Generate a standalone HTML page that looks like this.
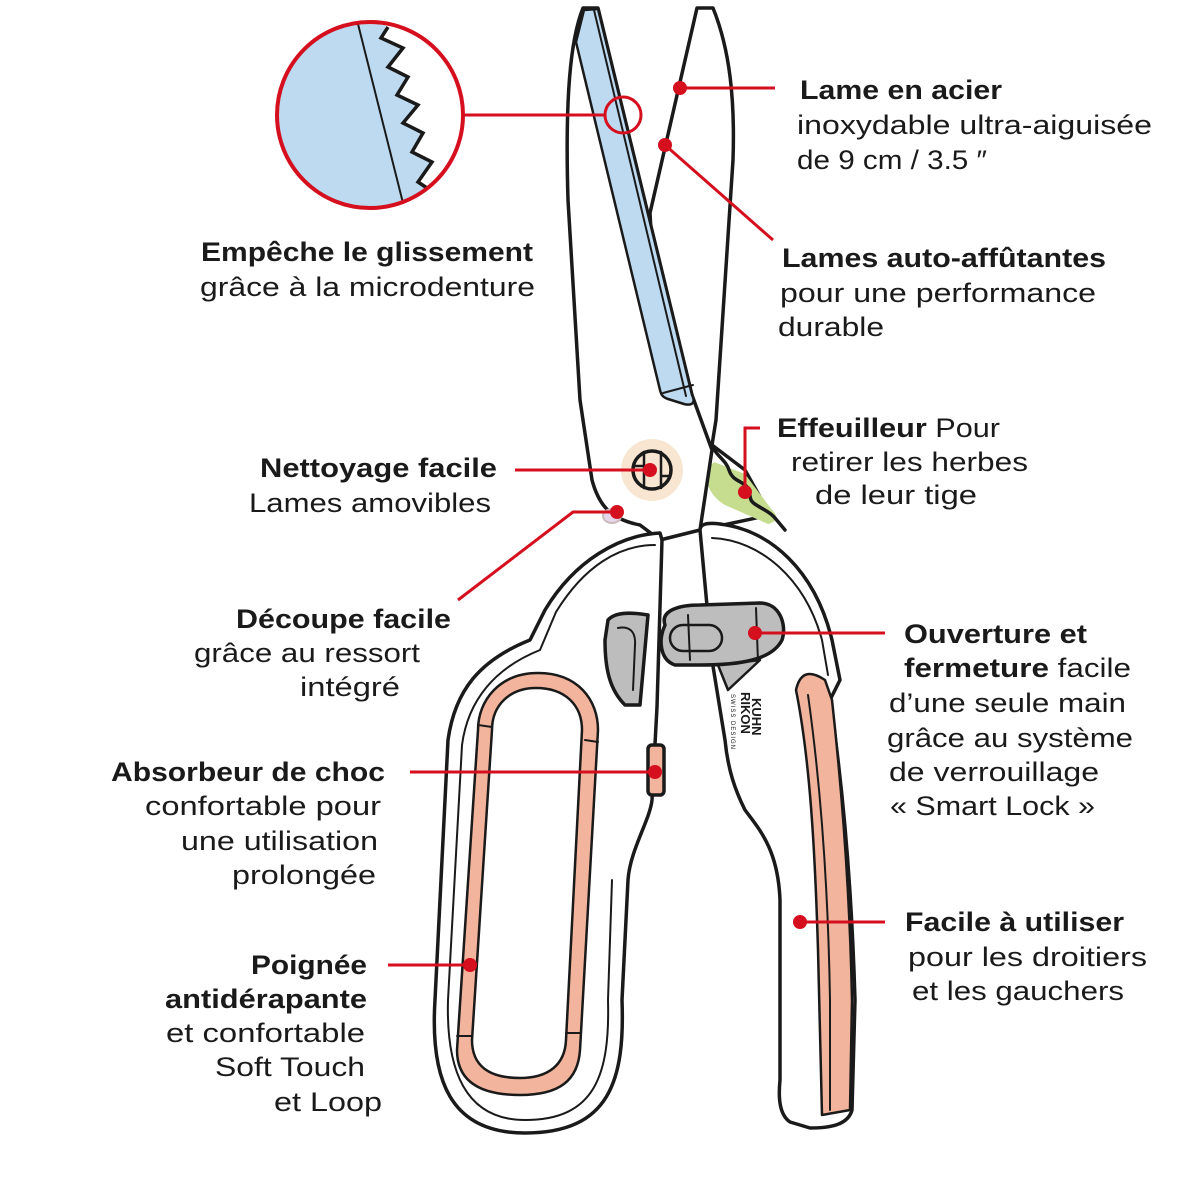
<!DOCTYPE html>
<html><head><meta charset="utf-8"><style>
html,body{margin:0;padding:0;background:#fff;}
svg{display:block}
text{font-family:"Liberation Sans",sans-serif;font-size:27px;fill:#1a1a1a;}
.b{font-weight:bold}
</style></head><body>
<svg width="1200" height="1200" viewBox="0 0 1200 1200" xmlns="http://www.w3.org/2000/svg">
<g stroke="#1a1a1a" stroke-width="3.5" stroke-linejoin="round" stroke-linecap="round">
<!-- right blade -->
<path d="M697,8 L713,8 C730,50 735,100 733,160 L716,420 L712,445 L745,470 L770,515 L700,530 L660,400 L650,213 Z" fill="#fff"/>
<!-- stripper -->
<path d="M714,462 C700,475 708,495 725,505 L768,524 C778,522 778,515 772,510 L745,474 Z" fill="#c6dc8e" stroke="none"/>
<path d="M712,445 C716,456 726,460 729,470 C733,482 742,480 748,488 C752,497 747,500 758,506 C764,510 770,512 775,518 L785,530" fill="none"/>
<!-- left blade + body -->
<path d="M583,8 L598,8 L692,395 L712,450 L700,530 L660,540 L640,525 C615,520 600,510 592,480 L580,400 L568,200 C565,100 570,40 583,8 Z" fill="#fff"/>
<path d="M584,10 L598,9 L692,395 C696,403 692,406 684,404 L668,399 C662,397 661,394 660,390 L576,42 Z" fill="#bddaf0" stroke-width="2.5"/>
<path d="M594,10 L686,396" fill="none" stroke-width="2"/>
<path d="M663,393 L693,385" fill="none" stroke-width="2"/>
<!-- pivot -->
<circle cx="652" cy="470" r="31" fill="#f8e6d2" stroke="none"/>
<circle cx="652" cy="470" r="19" fill="#f8e6d2"/>
<path d="M644,452 L644,488 M661,452 L661,488 M634,466 L644,466 M661,476 L670,476" fill="none" stroke-width="2.5"/>
<ellipse cx="612" cy="516" rx="9" ry="7" fill="#e6d6ea" stroke="#cbb" stroke-width="2"/>
<!-- left handle -->
<path d="M660,533 C620,535 575,560 545,610 L530,640 C480,660 455,690 448,740 L435,1000 C430,1080 450,1133 525,1133 C610,1133 625,1080 622,1000 L628,880 C630,850 650,820 652,800 L657,707 L662,540 Z" fill="#fff"/>
<path d="M655,545 C620,545 585,565 556,612 L540,650 C495,668 468,700 462,745 L448,1000 C446,1070 465,1120 525,1120 C595,1120 610,1075 608,1000 L612,880" fill="none" stroke-width="2"/>
<path d="M478,730 C478,700 500,673 538,673 C578,673 598,700 598,730 L580,1050 C578,1080 560,1095 520,1095 C478,1095 457,1080 457,1050 Z" fill="#f2b49c" stroke-width="2.5"/>
<path d="M492,730 C492,705 510,688 536,688 C565,688 582,705 582,730 L566,1040 C565,1065 548,1078 520,1078 C488,1078 472,1065 472,1040 Z" fill="#fff" stroke-width="2.5"/>
<path d="M478,725 L492,727 M585,740 L598,742 M457,1036 L472,1036 M566,1033 L580,1033" fill="none" stroke-width="2"/>
<path d="M608,620 C615,612 630,612 648,615 L640,705 L625,705 C610,690 605,670 605,640 Z" fill="#bdbdbd"/>
<path d="M618,628 C628,626 636,630 635,645 L633,690" fill="none" stroke-width="2"/>
<rect x="648" y="745" width="16" height="50" rx="4" fill="#f2b49c"/>
<!-- right handle -->
<path d="M700,530 C700,525 705,522 720,524 C770,530 815,570 832,640 L840,680 L830,700 C845,800 852,900 855,1000 L852,1110 C848,1125 830,1128 810,1128 L790,1122 C780,1115 778,1100 780,1080 L780,900 C778,850 760,830 745,810 C735,790 728,770 725,740 L712,660 Z" fill="#fff"/>
<path d="M712,538 C760,540 805,578 822,640 L828,675" fill="none" stroke-width="2"/>
<path d="M796,690 C800,672 810,670 825,680 L832,700 C843,800 850,900 852,1000 L850,1110 L822,1115 L818,950 C815,850 810,760 796,690 Z" fill="#f2b49c" stroke-width="2.5"/>
<path d="M808,695 C820,780 828,880 830,1000 L830,1110" fill="none" stroke-width="2"/>
<path d="M718,665 L760,660 L728,690 Z" fill="#bdbdbd" stroke-width="2.5"/>
<path d="M665,625 C660,610 680,605 700,605 L760,603 C780,603 787,625 782,640 C772,660 740,665 700,665 L675,665 C660,660 658,640 665,625 Z" fill="#bdbdbd"/>
<rect x="670" y="625" width="52" height="26" rx="13" fill="#bdbdbd" stroke-width="2.5"/>
<path d="M688,615 L690,660 M756,608 L758,662" fill="none" stroke-width="2"/>
</g>
<text x="0" y="0" transform="translate(752,698) rotate(90)" style="font-size:13px;font-weight:bold">KUHN</text>
<text x="0" y="0" transform="translate(741,692) rotate(90)" style="font-size:13px;font-weight:bold">RIKON</text>
<text x="0" y="0" transform="translate(731,694) rotate(90)" style="font-size:6px;letter-spacing:1px">SWISS DESIGN</text>

<!-- zoom circle -->
<circle cx="370" cy="115" r="93" fill="#fff"/>
<clipPath id="c"><circle cx="370" cy="115" r="93"/></clipPath>
<g clip-path="url(#c)">
<path d="M250,0 L388,20 L381,38 L403,48 L388,67 L408,77 L397,95 L418,105 L403,123 L423,133 L412,152 L432,162 L418,182 L430,190 L440,230 L250,230 Z" fill="#bddaf0"/>
<path d="M388,27 L381,38 L403,48 L388,67 L408,77 L397,95 L418,105 L403,123 L423,133 L412,152 L432,162 L418,182 L430,190" fill="none" stroke="#1a1a1a" stroke-width="3.5"/>
<line x1="358" y1="24" x2="403" y2="203" stroke="#1a1a1a" stroke-width="2"/>
</g>
<circle cx="370" cy="115" r="93" fill="none" stroke="#d50f1e" stroke-width="4"/>

<!-- connectors -->
<g stroke="#d50f1e" stroke-width="3" fill="none">
<circle cx="623" cy="115" r="18"/>
<path d="M463,115 L605,115"/>
<path d="M680,88 L775,88"/>
<path d="M665,145 L773,240"/>
<path d="M515,470 L648,470"/>
<path d="M745,492 L745,428 L760,428"/>
<path d="M458,600 L573,512 L617,512"/>
<path d="M755,633 L885,633"/>
<path d="M410,772 L655,772"/>
<path d="M800,922 L885,922"/>
<path d="M388,965 L470,965"/>
</g>
<g fill="#d50f1e">
<circle cx="680" cy="88" r="7"/><circle cx="665" cy="145" r="7"/>
<circle cx="650" cy="470" r="7"/><circle cx="745" cy="492" r="7"/>
<circle cx="617" cy="512" r="7"/><circle cx="755" cy="633" r="7"/>
<circle cx="655" cy="772" r="7"/><circle cx="800" cy="922" r="7"/>
<circle cx="470" cy="965" r="7"/>
</g>

<!-- labels -->
<g>
<text class="b" x="800" y="99" textLength="202" lengthAdjust="spacingAndGlyphs">Lame en acier</text>
<text x="797" y="134" textLength="355" lengthAdjust="spacingAndGlyphs">inoxydable ultra-aiguisée</text>
<text x="797" y="169" textLength="190" lengthAdjust="spacingAndGlyphs">de 9 cm / 3.5 ″</text>
<text class="b" x="782" y="267" textLength="324" lengthAdjust="spacingAndGlyphs">Lames auto-affûtantes</text>
<text x="780" y="302" textLength="316" lengthAdjust="spacingAndGlyphs">pour une performance</text>
<text x="778" y="336" textLength="106" lengthAdjust="spacingAndGlyphs">durable</text>
<text class="b" x="201" y="261" textLength="332" lengthAdjust="spacingAndGlyphs">Empêche le glissement</text>
<text x="200" y="296" textLength="335" lengthAdjust="spacingAndGlyphs">grâce à la microdenture</text>
<text class="b" x="260" y="477" textLength="237" lengthAdjust="spacingAndGlyphs">Nettoyage facile</text>
<text x="249" y="512" textLength="242" lengthAdjust="spacingAndGlyphs">Lames amovibles</text>
<text x="777" y="437" textLength="223" lengthAdjust="spacingAndGlyphs"><tspan class="b">Effeuilleur</tspan> Pour</text>
<text x="791" y="471" textLength="237" lengthAdjust="spacingAndGlyphs">retirer les herbes</text>
<text x="815" y="504" textLength="162" lengthAdjust="spacingAndGlyphs">de leur tige</text>
<text class="b" x="236" y="628" textLength="215" lengthAdjust="spacingAndGlyphs">Découpe facile</text>
<text x="194" y="662" textLength="226" lengthAdjust="spacingAndGlyphs">grâce au ressort</text>
<text x="300" y="696" textLength="100" lengthAdjust="spacingAndGlyphs">intégré</text>
<text class="b" x="904" y="643" textLength="183" lengthAdjust="spacingAndGlyphs">Ouverture et</text>
<text x="904" y="677" textLength="227" lengthAdjust="spacingAndGlyphs"><tspan class="b">fermeture</tspan> facile</text>
<text x="889" y="712" textLength="237" lengthAdjust="spacingAndGlyphs">d’une seule main</text>
<text x="887" y="747" textLength="246" lengthAdjust="spacingAndGlyphs">grâce au système</text>
<text x="889" y="781" textLength="210" lengthAdjust="spacingAndGlyphs">de verrouillage</text>
<text x="890" y="815" textLength="205" lengthAdjust="spacingAndGlyphs">« Smart Lock »</text>
<text class="b" x="111" y="781" textLength="274" lengthAdjust="spacingAndGlyphs">Absorbeur de choc</text>
<text x="145" y="815" textLength="236" lengthAdjust="spacingAndGlyphs">confortable pour</text>
<text x="181" y="850" textLength="197" lengthAdjust="spacingAndGlyphs">une utilisation</text>
<text x="232" y="884" textLength="144" lengthAdjust="spacingAndGlyphs">prolongée</text>
<text class="b" x="905" y="931" textLength="219" lengthAdjust="spacingAndGlyphs">Facile à utiliser</text>
<text x="908" y="966" textLength="239" lengthAdjust="spacingAndGlyphs">pour les droitiers</text>
<text x="912" y="1000" textLength="212" lengthAdjust="spacingAndGlyphs">et les gauchers</text>
<text class="b" x="251" y="974" textLength="116" lengthAdjust="spacingAndGlyphs">Poignée</text>
<text class="b" x="165" y="1008" textLength="202" lengthAdjust="spacingAndGlyphs">antidérapante</text>
<text x="166" y="1042" textLength="199" lengthAdjust="spacingAndGlyphs">et confortable</text>
<text x="215" y="1076" textLength="150" lengthAdjust="spacingAndGlyphs">Soft Touch</text>
<text x="274" y="1111" textLength="108" lengthAdjust="spacingAndGlyphs">et Loop</text>
</g>
</svg>
</body></html>
